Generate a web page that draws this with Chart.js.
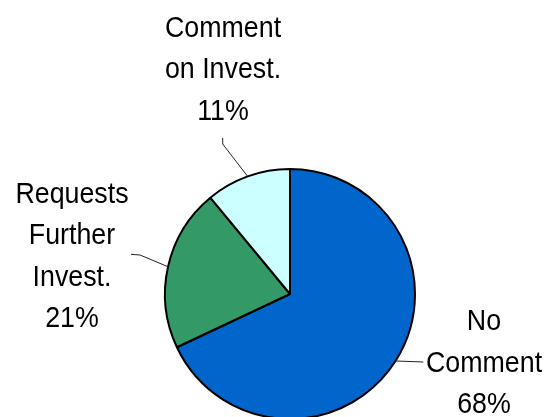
<!DOCTYPE html>
<html>
<head>
<meta charset="utf-8">
<script src="https://cdn.jsdelivr.net/npm/chart.js@4"></script>
<style>
    html, body { margin: 0; padding: 0; background: #fff; overflow: hidden; }
    .chart-wrapper-style { position: relative; width: 560px; height: 450px; }
</style>
</head>
<body>
<div class="chart-wrapper-style">
    <canvas id="pieChart"></canvas>
</div>
<script>
/************************
 *      Resource
 ************************/
const CATEGORIES = [["No", "Comment"], ["Requests", "Further", "Invest."], ["Comment", "on Invest."]]
const PERCENTS = [68, 21, 11]
const SLICE_COLORS = ['#0066CC', '#339966', '#CCFFFF']

// label placement, relative to the pie centre
// text: [centre x, first baseline], leader: points after the arc edge
const LABEL_LAYOUT = [
    { text: [194, 36.3], leader: [[133.3, 68]] },
    { text: [-218, -91.5], leader: [[-150, -39], [-159, -39.7]] },
    { text: [-67, -257.2], leader: [[-67.3, -150], [-67.3, -156]] }
]
/************************
 *      Method
 ************************/
const pieLabels = {
    id: 'pieLabels',
    afterDraw: (chart) => {
        const ctx = chart.ctx
        const meta = chart.getDatasetMeta(0)

        meta.data.forEach((arc, i) => {
            const layout = LABEL_LAYOUT[i]
            const mid = (arc.startAngle + arc.endAngle) / 2
            const cx = arc.x
            const cy = arc.y

            //leader line from the arc edge
            ctx.save()
            ctx.strokeStyle = '#222'
            ctx.lineWidth = 1
            ctx.beginPath()
            ctx.moveTo(cx + Math.cos(mid) * arc.outerRadius, cy + Math.sin(mid) * arc.outerRadius)
            layout.leader.forEach(p => ctx.lineTo(cx + p[0], cy + p[1]))
            ctx.stroke()
            ctx.restore()

            //text block, slightly tall glyphs
            const lines = CATEGORIES[i].concat([PERCENTS[i] + '%'])
            ctx.save()
            ctx.fillStyle = '#000'
            ctx.font = '26.8px "Liberation Sans", Arial, sans-serif'
            ctx.textAlign = 'center'
            ctx.textBaseline = 'alphabetic'
            lines.forEach((line, j) => {
                const y = cy + layout.text[1] + j * 41.5
                ctx.save()
                ctx.translate(cx + layout.text[0], y)
                ctx.scale(1, 1.1)
                ctx.fillText(line, 0, 0)
                ctx.restore()
            })
            ctx.restore()
        })
    }
}

const createPieChart = () => {
    new Chart("pieChart", {
        type: 'pie',
        data: {
            labels: CATEGORIES,
            datasets: [{
                data: PERCENTS,
                backgroundColor: SLICE_COLORS,
                borderColor: '#000',
                borderWidth: 2
            }]
        },
        options: {
            responsive: true,
            maintainAspectRatio: false,
            animation: false,
            radius: 125,
            layout: { padding: { left: 20, right: 0, top: 150, bottom: 12 } },
            plugins: {
                legend: { display: false },
                tooltip: { enabled: false }
            }
        },
        plugins: [pieLabels]
    })
}

createPieChart()
</script>
</body>
</html>
